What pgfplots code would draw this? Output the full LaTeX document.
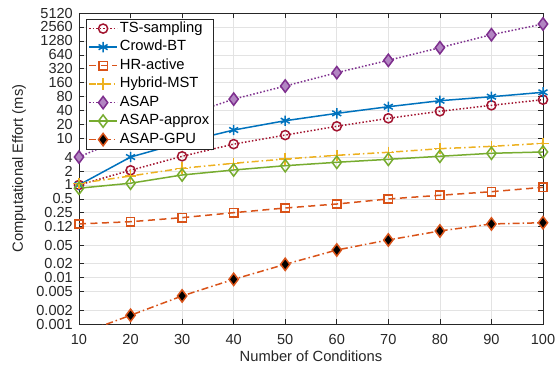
\documentclass[border=0pt]{standalone}
\usepackage{fontspec}
\setmainfont{Liberation Sans}
\usepackage{pgfplots}
\pgfplotsset{compat=1.18}
\definecolor{mblue}{rgb}{0,0.447,0.741}
\definecolor{morange}{rgb}{0.85,0.325,0.098}
\definecolor{myellow}{rgb}{0.929,0.694,0.125}
\definecolor{mpurple}{rgb}{0.494,0.184,0.556}
\definecolor{mpurplefill}{rgb}{0.70,0.52,0.76}
\definecolor{mgreen}{rgb}{0.466,0.674,0.188}
\definecolor{mred}{rgb}{0.635,0.078,0.184}
\definecolor{axgray}{rgb}{0.15,0.15,0.15}
\begin{document}
\begin{tikzpicture}
\begin{axis}[
  scale only axis,
  width=464bp, height=311bp,
  ymode=log,
  xmin=10, xmax=100,
  ymin=0.001, ymax=5120,
  xtick={10,20,...,100},
  ytick={0.001,0.002,0.005,0.01,0.02,0.05,0.125,0.25,0.5,1,2,4,10,20,40,80,160,320,640,1280,2560,5120},
  yticklabels={0.001,0.002,0.005,0.01,0.02,0.05,0.12,0.25,0.5,1,2,4,10,20,40,80,160,320,640,1280,2560,5120},
  log ticks with fixed point,
  /pgf/number format/assume math mode=true,
  tick label style={font=\fontsize{14.6}{16}\selectfont, text=axgray},
  yticklabel style={anchor=east, inner xsep=0pt, xshift=-6bp},
  xticklabel style={anchor=north, inner ysep=0pt, yshift=-10bp},
  label style={font=\fontsize{14.8}{16}\selectfont, text=axgray},
  xlabel={Number of Conditions},
  ylabel={Computational Effort (ms)},
  xlabel style={at={(axis description cs:0.5,0)}, anchor=base, yshift=-37bp},
  ylabel style={at={(axis description cs:-0.1207,0.5)}, anchor=base},
  grid=major,
  major grid style={gray!22, line width=0.7pt},
  axis line style={axgray, line width=0.7pt},
  tick style={axgray, line width=0.7pt},
  tick align=inside,
  minor tick num=0,
  major tick length=5pt,
  every axis plot/.append style={line width=1.5bp},
  legend style={at={(axis description cs:0.0151,0.9807)}, anchor=north west, font=\fontsize{14.8}{16}\selectfont, text=black, draw=axgray, line width=0.7pt, row sep=0pt, column sep=0pt, inner xsep=2bp, inner ysep=0bp, nodes={text height=11bp, text depth=3.5bp, inner ysep=2bp, inner xsep=2bp}},
  legend cell align=left,
  legend image code/.code={\draw[mark repeat=2,mark phase=2] plot coordinates {(0bp,0bp) (14bp,0bp) (28bp,0bp)};},
]
% TS-sampling
\addplot[mred, dash pattern=on 1.5bp off 2bp, mark=o, mark size=4.6pt, mark options={solid, line width=1.5bp}] coordinates {
(10,1.0) (20,2.07) (30,4.15) (40,7.6) (50,11.9) (60,18.4) (70,27.4) (80,38.8) (90,52.2) (100,69)};
\addlegendentry{TS-sampling}
% Crowd-BT
\addplot[mblue, solid, mark=asterisk, mark size=5.2pt, mark options={solid, line width=1.5bp}] coordinates {
(10,1.0) (20,4.0) (30,8.2) (40,15.3) (50,24.3) (60,35) (70,48.7) (80,65.6) (90,80) (100,99.6)};
\addlegendentry{Crowd-BT}
% HR-active
\addplot[morange, dash pattern=on 7bp off 4.5bp, mark=square, mark size=4.2pt, mark options={solid, line width=1.5bp}] coordinates {
(10,0.144) (20,0.161) (30,0.197) (40,0.252) (50,0.318) (60,0.388) (70,0.498) (80,0.598) (90,0.715) (100,0.89)};
\addlegendentry{HR-active}
% Hybrid-MST
\addplot[myellow, dash pattern=on 7bp off 3bp on 1.5bp off 3bp, mark=+, mark size=5.8pt, mark options={solid, line width=1.5bp}] coordinates {
(10,1.08) (20,1.56) (30,2.29) (40,2.93) (50,3.63) (60,4.36) (70,5.06) (80,6.05) (90,6.8) (100,7.9)};
\addlegendentry{Hybrid-MST}
% ASAP
\addplot[mpurple, dash pattern=on 1.5bp off 2bp, mark=diamond*, mark size=6.2pt, mark options={solid, fill=mpurplefill, line width=1.5bp}] coordinates {
(10,4.0) (20,12) (30,30) (40,71) (50,136) (60,264) (70,488) (80,914) (90,1742) (100,2964)};
\addlegendentry{ASAP}
% ASAP-approx
\addplot[mgreen, solid, mark=diamond, mark size=6.2pt, mark options={solid, line width=1.5bp}] coordinates {
(10,0.85) (20,1.09) (30,1.64) (40,2.1) (50,2.6) (60,3.08) (70,3.57) (80,4.15) (90,4.82) (100,5.14)};
\addlegendentry{ASAP-approx}
% ASAP-GPU
\addplot[morange, dash pattern=on 7bp off 3bp on 1.5bp off 3bp, mark=diamond*, mark size=6.2pt, mark options={solid, fill=black, line width=1.5bp}] coordinates {
(10,0.0006) (20,0.00154) (30,0.00403) (40,0.0092) (50,0.0194) (60,0.0395) (70,0.065) (80,0.1016) (90,0.144) (100,0.153)};
\addlegendentry{ASAP-GPU}
\end{axis}
\pgfresetboundingbox
\path[use as bounding box] ([xshift=-79bp,yshift=-43bp]current axis.south west) rectangle ([xshift=15bp,yshift=13bp]current axis.north east);
\end{tikzpicture}
\end{document}
